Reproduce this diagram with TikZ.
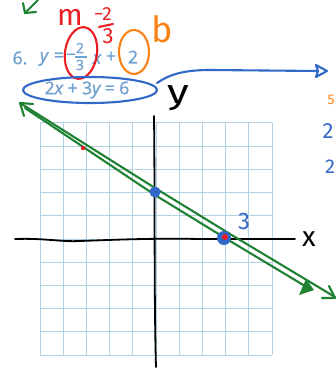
\documentclass[tikz,border=0pt]{standalone}
\usepackage{fontspec}
\setmainfont{Open Sans}
\newfontfamily\pfont[FakeBold=1.2]{Open Sans}
\newfontfamily\hand{Fira Sans}
\definecolor{txtblue}{RGB}{110,160,208}
\definecolor{gridblue}{RGB}{178,210,228}
\definecolor{bpen}{RGB}{50,105,200}
\definecolor{gpen}{RGB}{30,130,50}
\definecolor{rpen}{RGB}{235,30,35}
\definecolor{opn}{RGB}{250,130,20}
\begin{document}
\begin{tikzpicture}[x=1pt,y=-1pt,
  pt/.style={text=txtblue,inner sep=0pt,font=\pfont\fontsize{17.5}{17.5}\selectfont},
  ptsm/.style={text=txtblue,inner sep=0pt,font=\pfont\fontsize{14}{14}\selectfont},
  ink/.style={line width=2.1pt,line cap=round,line join=round},
  hw/.style={inner sep=0pt,font=\hand\fontsize{#1}{#1}\selectfont},
  hw/.default=18]
\useasboundingbox (0,0) rectangle (336,371);
\clip (0,0) rectangle (336,371);
\fill[white] (0,0) rectangle (336,371);
% grid
\foreach \i in {0,...,10}{
  \draw[gridblue,line width=1pt] ({40+23.2*\i},123) -- ({40+23.2*\i},355);
  \draw[gridblue,line width=1pt] (40,{123+23.2*\i}) -- (272,{123+23.2*\i});
}
% axes
\draw[ink,black,line width=1.8pt] (15,239) .. controls (45,238) and (60,242) .. (80,241)
  .. controls (110,240) and (150,238) .. (200,239) -- (295,239);
\draw[ink,black,line width=1.8pt] (154,116) .. controls (155,200) and (154,300) .. (156,367);
\node[hw=28,text=black] (xl) at (309,239) {x};
\node[hw=34,text=black,xscale=1.3] (yl) at (178,98) {y};
% printed text
\node[pt] (num) at (20,58) {6.};
\node[pt] (yy) at (44,59) {\itshape y};
\node[pt] (eq) at (59,57) {=};
\node[pt] (mi) at (71,57) {−};
\node[ptsm] (n2) at (80,48) {2};
\node[ptsm] (n3) at (80,65) {3};
\draw[txtblue,line width=1.2pt] (75,57) -- (87,57);
\node[pt] (xx) at (97,59) {\itshape x};
\node[pt] (pl) at (111,57) {+};
\node[pt] (b2) at (133,57) {2};
\node[pt] (eq2) at (87,90) {2\itshape x\upshape{} + 3\itshape y\upshape{} = 6};
% green line
\draw[gpen,ink] (20,103) -- (155,188) -- (230,234) -- (335,297);
\draw[gpen,ink] (25,108) -- (155,195) -- (230,241) -- (310,289);
\draw[gpen,ink] (33,104) -- (20,103) -- (24,116);
\fill[gpen] (314,290) -- (299,295) -- (306,279) -- cycle;
\draw[gpen,ink] (322,298) -- (335,298) -- (329,286);
% dots
\fill[bpen] (155,192) circle (5.5);
\fill[bpen] (224,238) circle (7);
\fill[rpen] (225,237) circle (3);
\fill[rpen] (83,148) circle (2.2);
\node[hw=24,text=bpen] (three) at (244,221) {3};
% ellipses
\draw[rpen,ink,rotate around={-8:(81,53)}] (81,53) ellipse (16 and 26);
\draw[opn,ink] (134,52) ellipse (15 and 22);
\draw[bpen,ink] (90,90) ellipse (67 and 13);
\draw[bpen,ink] (157,83) .. controls (170,74) and (185,70) .. (210,70) -- (318,71);
\draw[bpen,ink] (318,71) -- (316,65) -- (327,71) -- (316,77) -- cycle;
% annotations
\node[hw=30,text=rpen] (m) at (70,17) {m};
\node[hw=19,text=rpen] (fm) at (103,14) {−2};
\draw[rpen,ink] (99,27) -- (113,24);
\node[hw=22,text=rpen] (f3) at (108,36) {3};
\node[hw=36,text=opn] (bl) at (162,29) {b};
\draw[gpen,ink] (38,0) -- (25,13) -- (23,3);
\draw[gpen,ink] (25,13) -- (36,12);
% right edge fragments
\node[hw=14,text=opn] (r1) at (331,100) {5};
\node[hw=22,text=bpen] (r2) at (328,131) {2};
\node[hw=20,text=bpen] (r3) at (330,167) {2};
\end{tikzpicture}
\end{document}
